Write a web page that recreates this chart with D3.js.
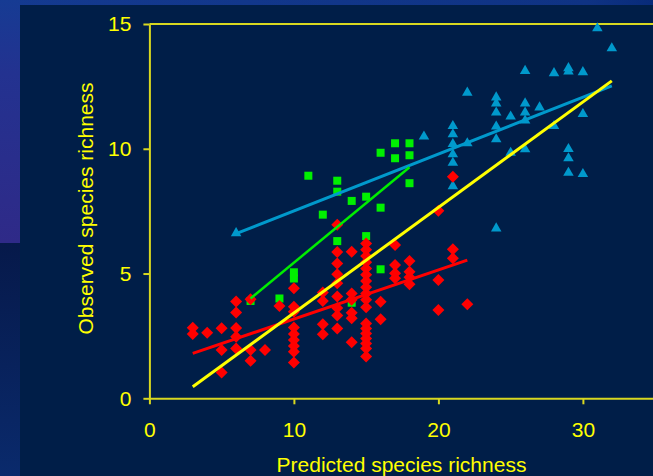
<!DOCTYPE html>
<html>
<head>
<meta charset="utf-8">
<script src="https://cdn.jsdelivr.net/npm/d3@7"></script>
<style>
body { margin:0; background:#001e48; }
svg { display:block; }
</style>
</head>
<body>
<div id="chart"></div>
<script>
// predicted vs observed richness, one array per group
var redPoints = [
	[3,2.83],[3,2.58],[4,2.63],
	[5,2.81],[5,1.94],[5,1.03],
	[6,3.88],[6,3.44],[6,2.82],[6,2.47],[6,2.0],
	[7,3.97],[7,1.94],[7,1.5],[8,1.94],[9,3.7],
	[10,4.41],[10,3.67],[10,3.47],[10,2.84],[10,2.58],[10,2.34],[10,2.1],[10,1.87],[10,1.43],
	[12,4.24],[12,3.9],[12,2.97],[12,2.57],
	[13,6.95],[13,5.86],[13,5.4],[13,4.97],[13,4.61],[13,4.08],[13,3.62],[13,3.32],[13,2.8],
	[14,5.87],[14,4.2],[14,3.95],[14,3.43],[14,3.21],[14,2.25],
	[15,6.2],[15,5.95],[15,5.7],[15,5.45],[15,5.2],[15,4.95],[15,4.7],[15,4.45],[15,4.2],[15,3.95],[15,3.65],
	[15,3.0],[15,2.8],[15,2.6],[15,2.4],[15,2.2],[15,2.0],[15,1.68],
	[16,3.87],[16,3.17],
	[17,6.14],[17,5.34],[17,5.01],[17,4.81],
	[18,5.5],[18,5.07],[18,4.85],[18,4.57],
	[20,7.52],[20,4.74],[20,3.54],
	[21,8.88],[21,5.97],[21,5.61],
	[22,3.77]
];
var greenPoints = [
	[7,3.9],[9,4.0],[10,5.05],[10,4.8],[11,8.92],[12,7.36],
	[13,8.72],[13,8.28],[13,6.3],[14,7.91],[14,3.83],[15,8.08],[15,6.5],
	[16,9.84],[16,7.64],[16,5.17],[17,10.22],[17,9.62],
	[18,10.22],[18,9.74],[18,8.62]
];
var bluePoints = [
	[6,6.62],[19,10.49],
	[21,10.91],[21,10.58],[21,10.19],[21,9.78],[21,9.44],[21,8.5],
	[22,12.25],[22,10.22],
	[24,12.06],[24,11.82],[24,11.45],[24,10.89],[24,10.38],[24,6.81],
	[25,11.29],[25,9.84],
	[26,13.12],[26,11.82],[26,11.45],[26,11.13],[26,9.98],
	[27,11.66],[28,13.03],[28,10.91],
	[29,13.23],[29,13.1],[29,9.99],[29,9.62],[29,9.04],
	[30,13.07],[30,11.39],[30,8.99],
	[31,14.83],[32,14.03]
];
// fitted lines (start, end)
var blueFit = [[6,6.6],[32,12.52]];
var greenFit = [[7,4.0],[18,9.26]];
var redFit = [[3,1.8],[22,5.54]];
var yellowFit = [[3,0.46],[32,12.72]];

var xTicks = [0,10,20,30];
var yTicks = [0,5,10,15];

var W = 653, H = 476;
var yellow = "#ffff00";

var svg = d3.select("#chart").append("svg")
	.attr("width",W)
	.attr("height",H);

// slide background bits
var defs = svg.append("defs");
var g1 = defs.append("linearGradient").attr("id","leftTop").attr("x1",0).attr("y1",0).attr("x2",0).attr("y2",1);
g1.append("stop").attr("offset","0%").attr("stop-color","#163b93");
g1.append("stop").attr("offset","30%").attr("stop-color","#233290");
g1.append("stop").attr("offset","100%").attr("stop-color","#2f2a88");
var g2 = defs.append("linearGradient").attr("id","leftBottom").attr("x1",0).attr("y1",0).attr("x2",0).attr("y2",1);
g2.append("stop").attr("offset","0%").attr("stop-color","#06194a");
g2.append("stop").attr("offset","100%").attr("stop-color","#0a2a6c");
var g3 = defs.append("linearGradient").attr("id","topStrip").attr("x1",0).attr("y1",0).attr("x2",1).attr("y2",0);
g3.append("stop").attr("offset","0%").attr("stop-color","#143a90");
g3.append("stop").attr("offset","90%").attr("stop-color","#0f3384");
g3.append("stop").attr("offset","100%").attr("stop-color","#082b7a");

svg.append("rect").attr("width",W).attr("height",5).attr("fill","url(#topStrip)");
svg.append("rect").attr("width",20).attr("height",243).attr("fill","url(#leftTop)");
svg.append("rect").attr("y",243).attr("width",20).attr("height",H-243).attr("fill","url(#leftBottom)");
svg.append("rect").attr("x",20).attr("y",5).attr("width",W-20).attr("height",H-5).attr("fill","#001e48");

// scales
var x = d3.scaleLinear().domain([0,35]).range([149.4,149.4+35*14.45]);
var y = d3.scaleLinear().domain([0,15]).range([398.3,24]);

var font = "'Liberation Sans', Arial, sans-serif";

// top border
svg.append("line")
	.attr("x1",x(0)).attr("x2",W+5)
	.attr("y1",y(15)).attr("y2",y(15))
	.attr("stroke","#d8d820").attr("stroke-width",2);

var xAxis = svg.append("g")
	.attr("transform","translate(0,"+y(0)+")")
	.call(d3.axisBottom(x).tickValues(xTicks).tickSize(6).tickSizeOuter(0).tickPadding(18));
var yAxis = svg.append("g")
	.attr("transform","translate("+x(0)+",0)")
	.call(d3.axisLeft(y).tickValues(yTicks).tickSize(6).tickSizeOuter(0).tickPadding(12));

[xAxis,yAxis].forEach(function(a){
	a.select(".domain").attr("stroke","#d8d820").attr("stroke-width",2);
	a.selectAll(".tick line").attr("stroke","#d8d820").attr("stroke-width",2);
	a.selectAll(".tick text").attr("fill",yellow).style("font-family",font).style("font-size","21px");
});

// axis titles
svg.append("text")
	.attr("x",401.5).attr("y",472)
	.attr("text-anchor","middle")
	.attr("fill",yellow)
	.style("font-family",font).style("font-size","21px")
	.text("Predicted species richness");

svg.append("text")
	.attr("transform","translate(93,208.5) rotate(-90)")
	.attr("text-anchor","middle")
	.attr("fill",yellow)
	.style("font-family",font).style("font-size","21px")
	.text("Observed species richness");

// markers
svg.append("g").selectAll("path")
	.data(bluePoints)
	.enter().append("path")
	.attr("d",d3.symbol().type(d3.symbolTriangle).size(48))
	.attr("transform",function(d){ return "translate("+x(d[0])+","+y(d[1])+")"; })
	.attr("fill","#0099cc");

svg.append("g").selectAll("rect")
	.data(greenPoints)
	.enter().append("rect")
	.attr("x",function(d){ return x(d[0])-4; })
	.attr("y",function(d){ return y(d[1])-4; })
	.attr("width",8).attr("height",8)
	.attr("fill","#00f000");

svg.append("g").selectAll("path")
	.data(redPoints)
	.enter().append("path")
	.attr("d",d3.symbol().type(d3.symbolSquare).size(72))
	.attr("transform",function(d){ return "translate("+x(d[0])+","+y(d[1])+") rotate(45)"; })
	.attr("fill","#ff0000");

// fitted lines
var line = d3.line()
	.x(function(d){ return x(d[0]); })
	.y(function(d){ return y(d[1]); });

[[blueFit,"#0099cc",3],[greenFit,"#00ee00",2.5],[redFit,"#ff0000",3],[yellowFit,"#ffff00",3]].forEach(function(f){
	svg.append("path")
		.datum(f[0])
		.attr("d",line)
		.attr("fill","none")
		.attr("stroke",f[1])
		.attr("stroke-width",f[2]);
});
</script>
</body>
</html>
